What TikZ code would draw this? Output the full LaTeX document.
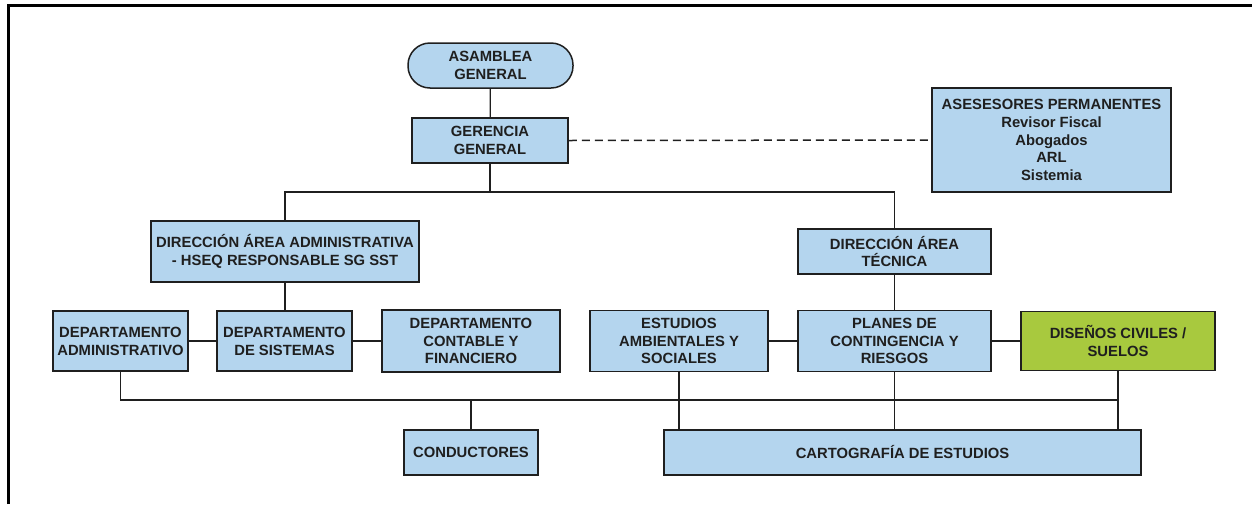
\documentclass[tikz,border=0pt]{standalone}
\usepackage{fontspec}
\setmainfont{Liberation Sans}
\definecolor{cajaazul}{HTML}{B4D5EE}
\definecolor{cajaverde}{HTML}{A8C93E}
\definecolor{trazo}{HTML}{1F1F1F}
\begin{document}
\begin{tikzpicture}[x=1pt,y=-1pt]
  \tikzstyle{every node}+=[inner sep=0pt]
  \tikzstyle{caja}=[draw=trazo, fill=cajaazul, line width=1.5pt, align=center, text=trazo, font=\fontsize{14.8}{17.8}\selectfont\bfseries]
  \tikzstyle{linea}=[draw=trazo, line width=1.3pt]
  \useasboundingbox (0,0) rectangle (1252,504);
  \draw [black, line width=3pt] (8,504) -- (8,5.5) -- (1252,5.5);
  % niveles superiores
  \node [caja, rounded corners=22pt, minimum width=165pt, minimum height=45pt] (asamblea) at (490.5,65.5) {ASAMBLEA\\GENERAL};
  \node [caja, minimum width=156pt, minimum height=45pt] (gerencia) at (490,140.5) {GERENCIA\\GENERAL};
  \node [caja, minimum width=239pt, minimum height=104pt] (asesores) at (1051.5,140) {ASESESORES PERMANENTES\\Revisor Fiscal\\Abogados\\ARL\\Sistemia};
  \node [caja, minimum width=268pt, minimum height=61pt] (dirAdmin) at (285,251.5) {DIRECCIÓN ÁREA ADMINISTRATIVA\\- HSEQ RESPONSABLE SG SST};
  \node [caja, minimum width=193pt, minimum height=45pt] (dirTecnica) at (894.5,251.5) {DIRECCIÓN ÁREA\\TÉCNICA};
  % departamentos
  \node [caja, minimum width=135pt, minimum height=60pt] (depAdmin) at (120.5,341) {DEPARTAMENTO\\ADMINISTRATIVO};
  \node [caja, minimum width=135pt, minimum height=60pt] (depSistemas) at (284.5,341) {DEPARTAMENTO\\DE SISTEMAS};
  \node [caja, minimum width=178pt, minimum height=62pt] (depContable) at (471,341) {DEPARTAMENTO\\CONTABLE Y\\FINANCIERO};
  \node [caja, minimum width=178pt, minimum height=61pt] (estudios) at (679,341) {ESTUDIOS\\AMBIENTALES Y\\SOCIALES};
  \node [caja, minimum width=193pt, minimum height=61pt] (planes) at (894.5,341) {PLANES DE\\CONTINGENCIA Y\\RIESGOS};
  \node [caja, fill=cajaverde, minimum width=194pt, minimum height=59pt] (disenos) at (1118,341) {DISEÑOS CIVILES /\\SUELOS};
  \node [caja, minimum width=134pt, minimum height=45pt] (conductores) at (471,452.5) {CONDUCTORES};
  \node [caja, minimum width=477pt, minimum height=45pt] (cartografia) at (902.5,452.5) {CARTOGRAFÍA DE ESTUDIOS};
  % conexiones
  \coordinate (nudo) at (490,192);
  \coordinate (base) at (471,400);
  \draw [linea] (asamblea) -- (gerencia);
  \draw [linea] (gerencia) -- (nudo);
  \draw [linea] (dirAdmin.north) |- (nudo) -| (dirTecnica.north);
  \draw [linea, line width=1.5pt, dash pattern=on 8pt off 5pt] (gerencia.east) -- (asesores.west);
  \draw [linea] (dirAdmin.south) -- (dirAdmin.south |- depSistemas.north);
  \draw [linea] (dirTecnica) -- (planes);
  \draw [linea] (depAdmin) -- (depSistemas);
  \draw [linea] (depSistemas) -- (depContable);
  \draw [linea] (estudios) -- (planes);
  \draw [linea] (planes) -- (disenos);
  \draw [linea] (depAdmin.south) |- (base) -- (conductores.north);
  \draw [linea] (base) -| (disenos.south);
  \draw [linea] (disenos.south) -- (disenos.south |- cartografia.north);
  \draw [linea] (estudios.south) -- (estudios.south |- cartografia.north);
  \draw [linea] (planes.south) -- (planes.south |- cartografia.north);
\end{tikzpicture}
\end{document}
